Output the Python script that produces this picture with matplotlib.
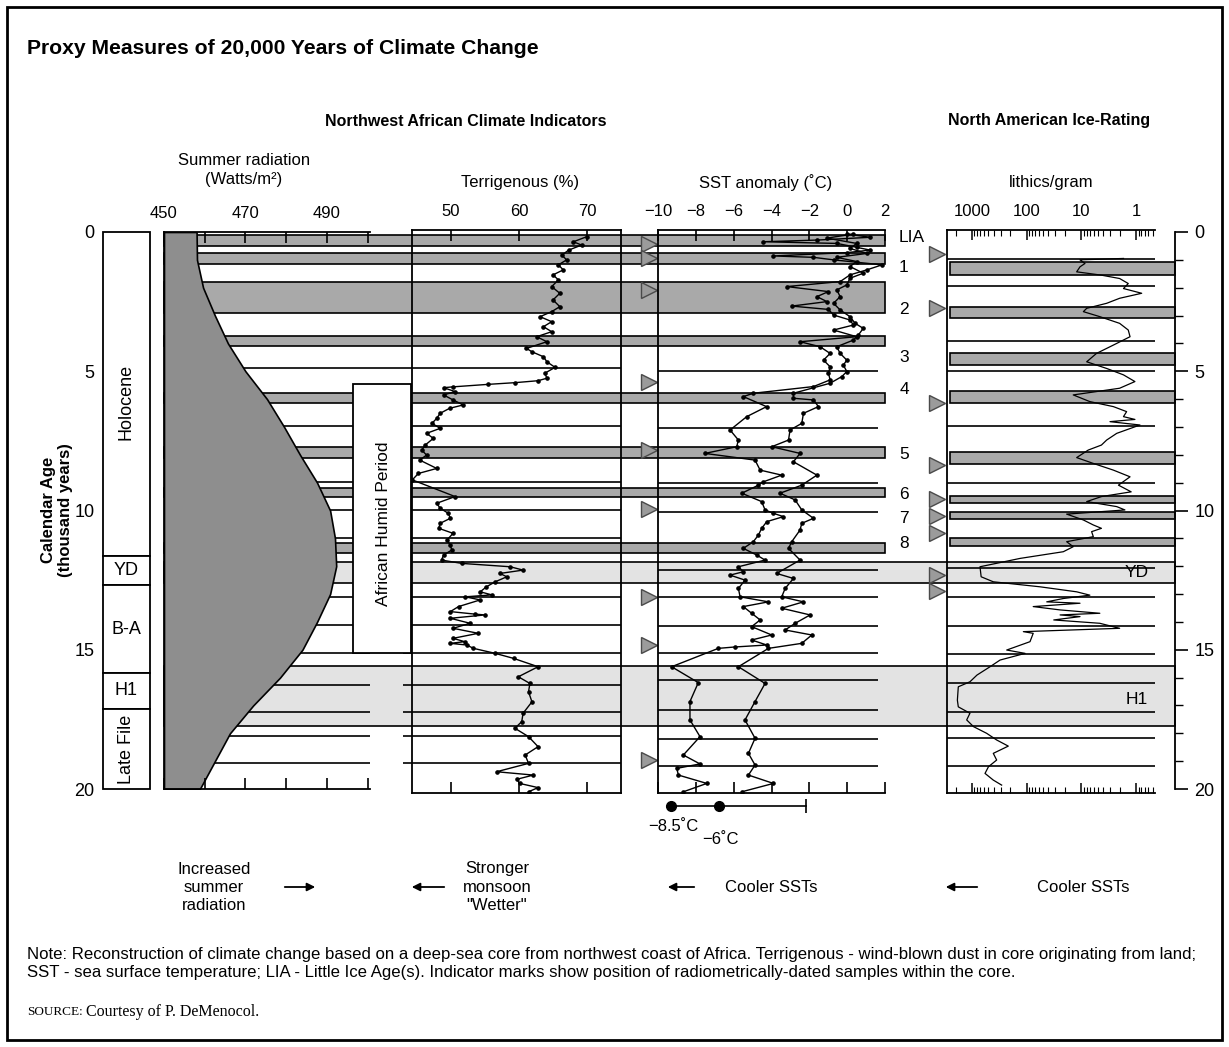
import numpy as np
import matplotlib
matplotlib.use('Agg')
import matplotlib.pyplot as plt
from matplotlib.patches import Rectangle, FancyArrowPatch
from matplotlib.ticker import FixedLocator, LogLocator, NullFormatter

plt.rcParams['font.family'] = ['Liberation Sans', 'DejaVu Sans']
plt.rcParams['axes.linewidth'] = 1.3

W, H = 1229, 1047
AGE0_PX = 232.0      # pixel row of age 0
PX_PER_KYR = 27.85   # pixels per thousand years

DARK = '#a9a9a9'
LIGHT = '#e3e3e3'
FILL = '#8e8e8e'

# ---------------- data ----------------
stage_names = ['Holocene', 'YD', 'B-A', 'H1', 'Late File']
stage_edges = [0, 11.63, 12.68, 15.83, 17.13, 20]

rad_age = [0, 1, 2, 3, 4, 5, 6, 7, 8, 9, 10, 11, 12, 13, 14, 15, 16, 17, 18, 19, 20]
rad_val = [458.0, 458.1, 459.6, 462.5, 465.7, 470.0, 475.3, 479.5, 483.4, 487.6, 490.8,
           492.0, 492.3, 490.8, 487.6, 484.0, 478.5, 471.9, 466.2, 462.5, 458.8]

terr_age = [0.17, 0.35, 0.47, 0.65, 0.83, 1.0, 1.18, 1.36, 1.54, 1.72,
            1.96, 2.2, 2.44, 2.68, 2.86, 3.04, 3.22, 3.4, 3.58, 3.76,
            3.94, 4.18, 4.3, 4.48, 4.66, 4.86, 5.07, 5.25, 5.34, 5.41,
            5.47, 5.56, 5.59, 5.73, 5.85, 6.03, 6.21, 6.33, 6.51, 6.69,
            6.87, 7.05, 7.23, 7.41, 7.65, 7.83, 8.01, 8.19, 8.49, 8.67,
            8.9, 9.5, 9.74, 9.92, 10.1, 10.28, 10.46, 10.64, 10.82, 11.06,
            11.24, 11.42, 11.6, 11.78, 11.9, 12.02, 12.14, 12.26, 12.38, 12.56,
            12.74, 12.92, 13.03, 13.1, 13.21, 13.45, 13.63, 13.72, 13.75, 13.87,
            14.05, 14.23, 14.41, 14.59, 14.71, 14.77, 14.83, 14.95, 15.13, 15.31,
            15.61, 15.97, 16.21, 16.51, 16.87, 17.28, 17.58, 17.82, 18.12, 18.48,
            18.78, 19.08, 19.38, 19.5, 19.65, 19.8, 19.95, 20.1]
terr_val = [69.95, 68.0, 69.2, 67.3, 66.3, 67.0, 65.8, 66.5, 65.0, 65.8,
            64.8, 66.0, 65.0, 66.0, 64.8, 63.1, 64.8, 63.6, 64.8, 62.6,
            64.1, 61.1, 61.9, 63.6, 64.1, 65.3, 63.8, 64.1, 62.8, 59.4,
            55.5, 50.3, 48.9, 50.6, 48.9, 50.3, 51.8, 49.8, 48.4, 47.9,
            47.2, 48.4, 46.4, 47.4, 46.2, 45.7, 46.4, 45.4, 47.9, 45.2,
            44.3, 50.6, 47.9, 48.4, 49.6, 49.9, 48.4, 48.2, 50.3, 49.4,
            49.9, 50.1, 48.9, 48.6, 51.6, 58.7, 60.6, 57.2, 58.2, 56.5,
            55.2, 54.3, 56.0, 52.1, 54.3, 51.1, 49.9, 53.5, 55.0, 49.9,
            52.8, 50.3, 54.0, 50.3, 52.0, 49.9, 52.3, 53.3, 56.5, 59.2,
            62.8, 59.9, 61.6, 61.4, 61.9, 60.6, 60.4, 59.4, 61.4, 62.8,
            60.9, 61.4, 56.7, 62.1, 59.7, 60.1, 62.8, 61.4]

# SST anomaly, calibration -8.5 C (left trace)
sst_a_age = [0.07, 0.19, 0.29, 0.35, 0.41, 0.55, 0.65, 0.74, 0.86, 0.91,
             1.0, 1.18, 1.36, 1.54, 1.78, 1.96, 2.14, 2.32, 2.5, 2.66,
             2.78, 2.98, 3.16, 3.34, 3.52, 3.76, 3.94, 4.12, 4.36, 4.6,
             4.84, 5.07, 5.31, 5.55, 5.79, 5.91, 6.27, 6.63, 7.11, 7.47,
             7.71, 7.95, 8.19, 8.55, 8.73, 8.97, 9.09, 9.38, 9.68, 9.98,
             10.1, 10.22, 10.4, 10.64, 10.88, 11.12, 11.36, 11.6, 11.78, 12.02,
             12.2, 12.32, 12.5, 12.8, 13.1, 13.28, 13.45, 13.69, 13.93, 14.17,
             14.47, 14.65, 14.83, 14.9, 14.95, 15.61, 16.18, 16.86, 17.52, 18.12,
             18.78, 19.1, 19.26, 19.5, 19.8, 20.1]
sst_a_val = [-0.02, 1.22, -1.6, -4.43, -0.55, 0.5, 1.22, -0.02, -3.9, -1.78,
             -0.72, 1.84, 1.04, 0.15, -0.37, -3.19, -0.99, -1.6, -1.07, -2.93,
             -0.99, -0.72, 0.15, 0.33, -0.72, 0.5, -2.49, -1.43, -0.9, -1.25,
             -0.9, -0.99, -0.9, -1.78, -4.96, -5.49, -4.26, -5.31, -6.19, -5.75,
             -5.84, -7.52, -4.87, -4.6, -3.46, -4.43, -4.69, -5.57, -4.52, -4.34,
             -3.9, -3.37, -4.25, -4.52, -4.69, -4.96, -5.49, -4.78, -4.34, -5.75,
             -5.49, -6.19, -5.4, -5.75, -5.66, -4.16, -5.49, -5.05, -4.6, -5.05,
             -3.99, -5.05, -4.25, -5.93, -6.81, -9.28, -7.87, -8.31, -8.31, -7.78,
             -8.66, -7.78, -9.01, -8.92, -7.42, -8.66]

# SST anomaly, calibration -6 C (right trace)
sst_b_age = [0.07, 0.22, 0.41, 0.59, 0.77, 0.91, 1.06, 1.24, 1.48, 1.66,
             1.9, 2.08, 2.32, 2.56, 2.8, 3.04, 3.28, 3.46, 3.7, 3.88,
             4.12, 4.36, 4.6, 4.78, 5.01, 5.19, 5.43, 5.79, 5.97, 6.03,
             6.27, 6.51, 6.87, 7.11, 7.47, 7.71, 7.95, 8.25, 8.73, 9.09,
             9.38, 9.62, 9.98, 10.28, 10.46, 10.7, 11.12, 11.36, 11.78, 12.26,
             12.44, 12.8, 13.1, 13.28, 13.51, 13.75, 14.05, 14.29, 14.47, 14.77,
             14.95, 15.61, 16.21, 16.86, 17.52, 18.18, 18.72, 19.14, 19.5, 19.8, 20.1]
sst_b_val = [0.33, -1.07, 0.5, 0.15, 1.04, -0.55, 0.5, 0.15, 0.85, 0.15,
             -0.02, -0.55, -0.37, -0.72, -0.37, 0.15, 0.42, 0.85, 0.59, 0.33,
             -0.55, -0.37, -0.02, -0.2, -0.02, -0.28, -0.9, -2.84, -2.84, -1.78,
             -1.52, -2.31, -2.4, -3.02, -3.1, -3.99, -2.49, -2.84, -1.6, -2.4,
             -3.55, -2.75, -2.4, -1.78, -2.4, -2.49, -2.93, -3.1, -2.49, -3.73,
             -2.84, -3.28, -3.46, -2.31, -3.46, -1.96, -2.75, -3.28, -1.87, -2.4,
             -4.16, -5.75, -4.34, -4.87, -5.4, -4.87, -5.22, -4.87, -5.22, -3.9, -5.57]

sst_offset_marks = [-9.3, -6.8]
sst_offset_labels = ['\u22128.5\u02daC', '\u22126\u02daC']
sst_bar_end = -2.2

lith_age = [0.95, 1.0, 1.13, 1.25, 1.43, 1.55, 1.67, 1.85, 2.03, 2.2,
            2.38, 2.56, 2.74, 2.86, 3.04, 3.28, 3.52, 3.76, 4.06, 4.36,
            4.66, 4.9, 5.13, 5.37, 5.61, 5.85, 6.09, 6.27, 6.45, 6.63,
            6.73, 6.81, 6.93, 7.23, 7.47, 7.65, 7.83, 8.1, 8.31, 8.55,
            8.79, 9.09, 9.33, 9.5, 9.68, 9.86, 9.98, 10.13, 10.34, 10.52,
            10.64, 10.76, 10.94, 11.12, 11.3, 11.48, 11.72, 12.02, 12.38, 12.56,
            12.74, 12.92, 13.04, 13.16, 13.28, 13.33, 13.45, 13.57, 13.69, 13.75,
            13.81, 13.93, 14.05, 14.23, 14.35, 14.41, 14.71, 15.01, 15.13, 15.37,
            15.61, 15.91, 16.15, 16.33, 16.81, 17.05, 17.28, 17.52, 17.76, 18.0,
            18.24, 18.46, 18.72, 18.96, 19.2, 19.44, 19.68, 19.86]
lith_val = [1.7, 10.6, 8.6, 10.6, 12.2, 4.3, 2.0, 1.39, 1.7, 0.79,
            2.0, 3.45, 8.0, 9.2, 4.6, 2.0, 1.39, 1.29, 2.6, 5.3,
            8.0, 3.45, 1.7, 1.05, 2.0, 14.1, 7.0, 2.6, 1.49, 1.7,
            1.05, 3.0, 0.85, 2.26, 3.45, 4.3, 7.5, 12.2, 6.05, 2.6,
            1.29, 2.1, 1.23, 4.3, 8.0, 2.26, 1.6, 18.6, 9.2, 6.05,
            4.3, 6.5, 6.05, 18.6, 14.1, 21.4, 132, 714, 680, 408,
            57, 12.2, 7.0, 21.4, 43, 10.6, 76, 24.5, 4.6, 24.5,
            10.6, 32, 4.6, 2.0, 115, 76, 87, 232, 107, 307,
            468, 812, 1090, 1780, 1850, 1780, 1090, 1250, 940, 540,
            354, 217, 408, 354, 500, 578, 408, 287]

# cold events (dark bands), Northwest Africa core
nw_bands = [(0.1, 0.5), (0.75, 1.15), (1.8, 2.9), (3.73, 4.1), (5.78, 6.14),
            (7.72, 8.1), (9.2, 9.5), (11.17, 11.53)]
event_labels = ['LIA', '1', '2', '3', '4', '5', '6', '7', '8']
event_label_ages = [0.18, 1.29, 2.8, 4.49, 5.67, 8.0, 9.41, 10.3, 11.17]
# ice-rafting events (dark bands), North America
lith_bands = [(1.08, 1.54), (2.69, 3.09), (4.34, 4.78), (5.71, 6.14), (7.9, 8.33),
              (9.48, 9.73), (10.05, 10.3), (10.99, 11.27)]
light_bands = [(11.85, 12.6), (15.6, 17.75)]
light_labels = ['YD', 'H1']
light_label_ages = [12.24, 16.77]

terr_lines = [4.9, 6.95, 8.97, 10.0, 10.98, 13.1, 14.1, 15.12, 16.26, 17.23, 18.1, 19.07]
sst_lines = [4.98, 7.03, 9.0, 10.05, 12.13, 13.1, 14.14, 15.1, 16.1, 17.15, 18.2, 19.17]
lith_lines = [0.97, 1.94, 3.91, 4.98, 6.97, 9.0, 12.07, 13.1, 14.15, 15.15,
              16.2, 17.23, 18.17, 19.17]

dated_nw = [0.43, 0.93, 2.08, 5.39, 7.83, 9.95, 13.1, 14.83, 18.96]
dated_na = [0.79, 2.73, 6.14, 8.37, 9.59, 10.2, 10.81, 12.32, 12.89]

humid_period = (5.46, 15.1)

# ---------------- figure ----------------
fig = plt.figure(figsize=(W / 100, H / 100), dpi=100)


def fx(x):
    return x / W


def fy(y):
    return 1 - y / H


def panel(x0, x1, a0, a1):
    top = AGE0_PX + a0 * PX_PER_KYR
    bot = AGE0_PX + a1 * PX_PER_KYR
    ax = fig.add_axes([x0 / W, 1 - bot / H, (x1 - x0) / W, (bot - top) / H])
    ax.set_ylim(a1, a0)
    ax.patch.set_visible(False)
    return ax


# background layer: bands, level lines, dated-sample marks
bg = panel(0, W, -AGE0_PX / PX_PER_KYR, (H - AGE0_PX) / PX_PER_KYR)
bg.set_xlim(0, W)
bg.axis('off')

for a0, a1 in light_bands:
    bg.barh((a0 + a1) / 2, 1175 - 164, left=164, height=a1 - a0,
            color=LIGHT, edgecolor='black', lw=1.2)
for a0, a1 in nw_bands:
    bg.barh((a0 + a1) / 2, 885 - 164, left=164, height=a1 - a0,
            color=DARK, edgecolor='black', lw=1.2)
for a0, a1 in lith_bands:
    bg.barh((a0 + a1) / 2, 1175 - 950, left=950, height=a1 - a0,
            color=DARK, edgecolor='black', lw=1.2)

upper = [a for a in terr_lines if a < humid_period[0]]
lower = [a for a in terr_lines if a >= humid_period[0]]
bg.hlines(upper, 164, 621, color='black', lw=1.2)
bg.hlines(lower, 164, 370, color='black', lw=1.2)
bg.hlines(lower, 403, 621, color='black', lw=1.2)
bg.hlines(sst_lines, 658, 878, color='black', lw=1.2)
bg.hlines(lith_lines, 947, 1155, color='black', lw=1.2)

bg.add_patch(Rectangle((353, humid_period[0]), 58, humid_period[1] - humid_period[0],
                       facecolor='white', edgecolor='black', lw=1.3, zorder=3))
bg.text(383, sum(humid_period) / 2 + 0.2, 'African Humid Period', rotation=90,
        ha='center', va='center', fontsize=12.5, zorder=4)

bg.plot(np.full(len(dated_nw), 649), dated_nw, ls='none', marker='>', ms=12,
        mfc='#9b9b9b', mec='#4a4a4a', mew=1, zorder=5)
bg.plot(np.full(len(dated_na), 937), dated_na, ls='none', marker='>', ms=12,
        mfc='#9b9b9b', mec='#4a4a4a', mew=1, zorder=5)

for lab, a in zip(event_labels, event_label_ages):
    bg.text(904 if lab != 'LIA' else 912, a, lab, ha='center', va='center', fontsize=12.5)
for lab, a in zip(light_labels, light_label_ages):
    bg.text(1137, a, lab, ha='center', va='center', fontsize=12.5)

# stage column
ax_st = panel(103, 150, 0, 20)
ax_st.set_xlim(0, 1)
heights = np.diff(stage_edges)
centers = np.array(stage_edges[:-1]) + heights / 2
ax_st.barh(centers, 1, left=0, height=heights, color='white', edgecolor='black',
           lw=1.3, clip_on=False)
for name, c in zip(stage_names, centers):
    rot = 90 if name in ('Holocene', 'Late File') else 0
    ax_st.text(0.5, c + (0.3 if name == 'Holocene' else 0), name, rotation=rot,
               ha='center', va='center', fontsize=13)
for s in ax_st.spines.values():
    s.set_visible(False)
ax_st.set_xticks([])
ax_st.set_yticks([0, 5, 10, 15, 20])
ax_st.tick_params(axis='y', length=0, labelsize=13, pad=6)

# summer radiation
ax_rad = panel(164, 370, 0, 20)
ax_rad.set_xlim(450, 500.6)
ax_rad.fill_betweenx(rad_age, 450, rad_val, facecolor=FILL, edgecolor='black', lw=1.2)
ax_rad.spines['right'].set_visible(False)
ax_rad.set_xticks([450, 460, 470, 480, 490, 500], ['450', '', '470', '', '490', ''])
ax_rad.tick_params(axis='x', direction='in', top=True, bottom=True, labeltop=True,
                   labelbottom=False, length=8, width=1.2, labelsize=12, pad=8)
ax_rad.set_yticks([])

# terrigenous
ax_terr = panel(412, 621, -0.07, 20.14)
ax_terr.set_xlim(44.26, 75.0)
ax_terr.plot(terr_val, terr_age, color='black', lw=1.0, marker='o', ms=2.3)
ax_terr.set_xticks([50, 60, 70])
ax_terr.tick_params(axis='x', direction='in', top=True, bottom=True, labeltop=True,
                    labelbottom=False, length=8, width=1.2, labelsize=12, pad=8)
ax_terr.set_yticks([])

# SST anomaly
ax_sst = panel(658, 885, -0.07, 20.14)
ax_sst.set_xlim(-10, 2)
ax_sst.plot(sst_a_val, sst_a_age, color='black', lw=1.0, marker='o', ms=2.3)
ax_sst.plot(sst_b_val, sst_b_age, color='black', lw=1.0, marker='o', ms=2.3)
ax_sst.spines['right'].set_visible(False)
ax_sst.set_xticks(range(-10, 3, 2))
ax_sst.tick_params(axis='x', direction='in', top=True, bottom=True, labeltop=True,
                   labelbottom=False, length=8, width=1.2, labelsize=12, pad=8)
ax_sst.set_yticks([])
bar_age = 20.61
ax_sst.plot([sst_offset_marks[0], sst_bar_end], [bar_age, bar_age], color='black',
            lw=1.2, clip_on=False)
ax_sst.plot([sst_bar_end], [bar_age], marker='|', ms=10, mew=1.2, color='black',
            clip_on=False)
ax_sst.plot(sst_offset_marks, [bar_age] * 2, ls='none', marker='o', ms=7,
            color='black', clip_on=False)
ax_sst.text(sst_offset_marks[0] + 0.1, bar_age + 0.75, sst_offset_labels[0],
            ha='center', va='center', fontsize=12)
ax_sst.text(sst_offset_marks[1] + 0.08, bar_age + 1.2, sst_offset_labels[1],
            ha='center', va='center', fontsize=12)

# lithics / gram
ax_lith = panel(947, 1155, -0.07, 20.14)
ax_lith.set_xscale('log')
ax_lith.set_xlim(2864, 0.451)
ax_lith.plot(lith_val, lith_age, color='black', lw=0.9)
ax_lith.spines['right'].set_visible(False)
ax_lith.xaxis.set_major_locator(FixedLocator([1000, 100, 10, 1]))
ax_lith.set_xticklabels(['1000', '100', '10', '1'])
ax_lith.xaxis.set_minor_locator(LogLocator(base=10, subs=np.arange(2, 10), numticks=20))
ax_lith.xaxis.set_minor_formatter(NullFormatter())
ax_lith.tick_params(axis='x', which='major', direction='in', top=True, bottom=True,
                    labeltop=True, labelbottom=False, length=7, width=1.1,
                    labelsize=12, pad=8)
ax_lith.tick_params(axis='x', which='minor', direction='in', top=True, bottom=True,
                    length=4, width=0.8)
ax_lith.set_yticks([])

# right-hand age axis
ax_age = panel(1160, 1175, 0, 20)
for s in ('left', 'top', 'bottom'):
    ax_age.spines[s].set_visible(False)
ax_age.set_xticks([])
ax_age.yaxis.tick_right()
ax_age.set_yticks([0, 5, 10, 15, 20])
ax_age.set_yticks(range(0, 21), minor=True)
ax_age.tick_params(axis='y', which='major', direction='out', length=9, width=1.2,
                   labelsize=13, pad=5)
ax_age.tick_params(axis='y', which='minor', direction='out', length=6, width=1.0)

# ---------------- text ----------------
fig.text(fx(27), fy(48), 'Proxy Measures of 20,000 Years of Climate Change',
         fontsize=15.2, weight='bold', ha='left', va='center')
fig.text(fx(466), fy(121), 'Northwest African Climate Indicators',
         fontsize=11.5, weight='bold', ha='center', va='center')
fig.text(fx(1049), fy(121), 'North American Ice-Rating',
         fontsize=11.5, weight='bold', ha='center', va='center')
fig.text(fx(57), fy(510), 'Calendar Age\n(thousand years)', rotation=90,
         fontsize=12, weight='bold', ha='center', va='center', linespacing=1.1)

fig.text(fx(244), fy(170), 'Summer radiation\n(Watts/m\u00b2)', fontsize=12,
         ha='center', va='center', linespacing=1.35)
fig.text(fx(520), fy(183), 'Terrigenous (%)', fontsize=12, ha='center', va='center')
fig.text(fx(766), fy(183), 'SST anomaly (\u02daC)', fontsize=12, ha='center', va='center')
fig.text(fx(1051), fy(183), 'lithics/gram', fontsize=12, ha='center', va='center')

fig.text(fx(214), fy(887), 'Increased\nsummer\nradiation', fontsize=12,
         ha='center', va='center', linespacing=1.25)
fig.text(fx(497), fy(887), 'Stronger\nmonsoon\n"Wetter"', fontsize=12,
         ha='center', va='center', linespacing=1.25)
fig.text(fx(725), fy(887), 'Cooler SSTs', fontsize=12, ha='left', va='center')
fig.text(fx(1037), fy(887), 'Cooler SSTs', fontsize=12, ha='left', va='center')
for x0, x1 in [(282, 318), (447, 409), (697, 665), (980, 943)]:
    fig.add_artist(FancyArrowPatch((fx(x0), fy(887)), (fx(x1), fy(887)),
                                   transform=fig.transFigure, arrowstyle='-|>',
                                   mutation_scale=12, lw=1.3, color='black'))

fig.text(fx(27), fy(955),
         'Note: Reconstruction of climate change based on a deep-sea core from northwest '
         'coast of Africa. Terrigenous - wind-blown dust in core originating from land;',
         fontsize=12.1, ha='left', va='center')
fig.text(fx(27), fy(973),
         'SST - sea surface temperature; LIA - Little Ice Age(s). Indicator marks show '
         'position of radiometrically-dated samples within the core.',
         fontsize=12.1, ha='left', va='center')
fig.text(fx(27), fy(1012), 'SOURCE:', fontsize=9.5, family='Liberation Serif',
         ha='left', va='center')
fig.text(fx(86), fy(1012), 'Courtesy of P. DeMenocol.', fontsize=11.5,
         family='Liberation Serif', ha='left', va='center')

fig.add_artist(Rectangle((fx(7), fy(1040)), fx(1222) - fx(7), fy(7) - fy(1040),
                         transform=fig.transFigure, fill=False, edgecolor='black', lw=2))

fig.savefig('out.png', dpi=100)
